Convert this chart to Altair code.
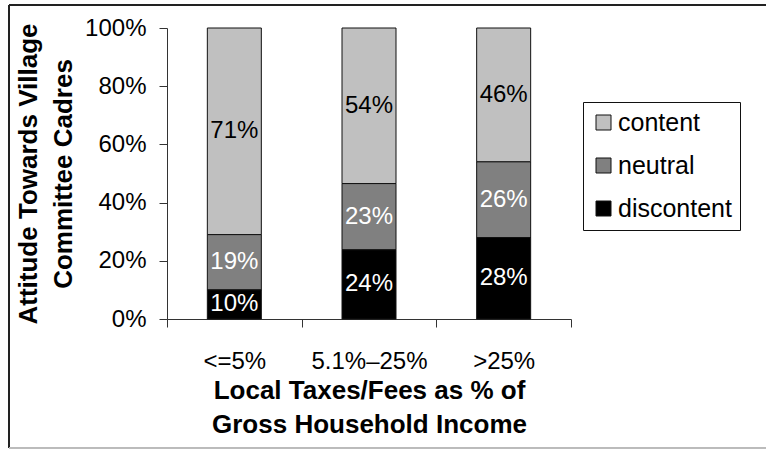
import altair as alt
import pandas as pd

# Share of households by attitude, per tax-burden bracket
groups = ["<=5%", "5.1%–25%", ">25%"]
attitudes = ["content", "neutral", "discontent"]
content = [71, 54, 46]
neutral = [19, 23, 26]
discontent = [10, 24, 28]

colors = ["#C0C0C0", "#808080", "#000000"]
label_colors = ["#000000", "#FFFFFF", "#FFFFFF"]
stack_order = {"discontent": 0, "neutral": 1, "content": 2}

rows = []
for i, g in enumerate(groups):
    for a, vals in zip(attitudes, [content, neutral, discontent]):
        rows.append({"group": g, "attitude": a, "value": vals[i],
                     "order": stack_order[a], "label": f"{vals[i]}%"})
df = pd.DataFrame(rows)

FONT = "Liberation Sans"

base = alt.Chart(df).transform_stack(
    stack="value", groupby=["group"], as_=["y0", "y1"],
    offset="normalize", sort=[alt.SortField("order", order="ascending")]
).transform_calculate(mid="(datum.y0 + datum.y1) / 2")

x_enc = alt.X(
    "group:N", sort=groups,
    scale=alt.Scale(paddingInner=0, paddingOuter=0),
    axis=alt.Axis(
        title=["Local Taxes/Fees as % of", "Gross Household Income"],
        labelAngle=0, tickBand="extent", tickSize=8, labelPadding=22,
        labelFontSize=24, titleFontSize=26, titleFontWeight="bold",
        titlePadding=4, titleLineHeight=34,
    ),
)

bars = base.mark_bar(size=54, stroke="#111", strokeWidth=1).encode(
    x=x_enc,
    y=alt.Y(
        "y0:Q", scale=alt.Scale(domain=[0, 1]),
        axis=alt.Axis(
            title=["Attitude Towards Village", "Committee Cadres"],
            format=".0%", values=[0, 0.2, 0.4, 0.6, 0.8, 1.0],
            tickSize=8, labelPadding=13, labelFontSize=24,
            titleFontSize=26, titleFontWeight="bold", titlePadding=8,
            titleLineHeight=35, grid=False,
        ),
    ),
    y2="y1:Q",
    color=alt.Color(
        "attitude:N",
        scale=alt.Scale(domain=attitudes, range=colors),
        legend=alt.Legend(
            title=None, orient="none", legendX=416, legendY=74,
            symbolType="square", symbolSize=225, symbolStrokeColor="#111",
            symbolStrokeWidth=1, labelFontSize=25, labelOffset=2,
            rowPadding=17, padding=8, strokeColor="#111", fillColor="white",
        ),
    ),
)

labels = base.mark_text(fontSize=24, font=FONT, baseline="middle").encode(
    x=alt.X("group:N", sort=groups),
    y=alt.Y("mid:Q"),
    text="label:N",
    color=alt.Color("attitude:N",
                    scale=alt.Scale(domain=attitudes, range=label_colors),
                    legend=None),
)

# Outer frame around the whole figure
frame_top = alt.Chart(df).mark_rule(color="#222", strokeWidth=1).encode(
    x=alt.value(-158), x2=alt.value(620), y=alt.value(-23)
)
frame_left = alt.Chart(df).mark_rule(color="#222", strokeWidth=1).encode(
    x=alt.value(-158), y=alt.value(-23), y2=alt.value(420)
)
frame_bottom = alt.Chart(df).mark_rule(color="#BBBBBB", strokeWidth=1).encode(
    x=alt.value(-158), x2=alt.value(620), y=alt.value(420)
)

chart = alt.layer(bars, labels, frame_top, frame_left, frame_bottom).resolve_scale(
    color="independent"
).properties(
    width=404, height=291,
    autosize=alt.AutoSizeParams(type="none"),
    padding={"left": 167, "top": 28, "right": 195, "bottom": 130},
).configure(
    font=FONT,
).configure_axis(
    domainColor="#333", tickColor="#333", labelColor="#000", titleColor="#000",
    labelFont=FONT, titleFont=FONT,
).configure_legend(
    labelFont=FONT, labelColor="#000",
).configure_view(stroke=None)

chart.save("out.html", embed_options={"renderer": "svg", "actions": False})
